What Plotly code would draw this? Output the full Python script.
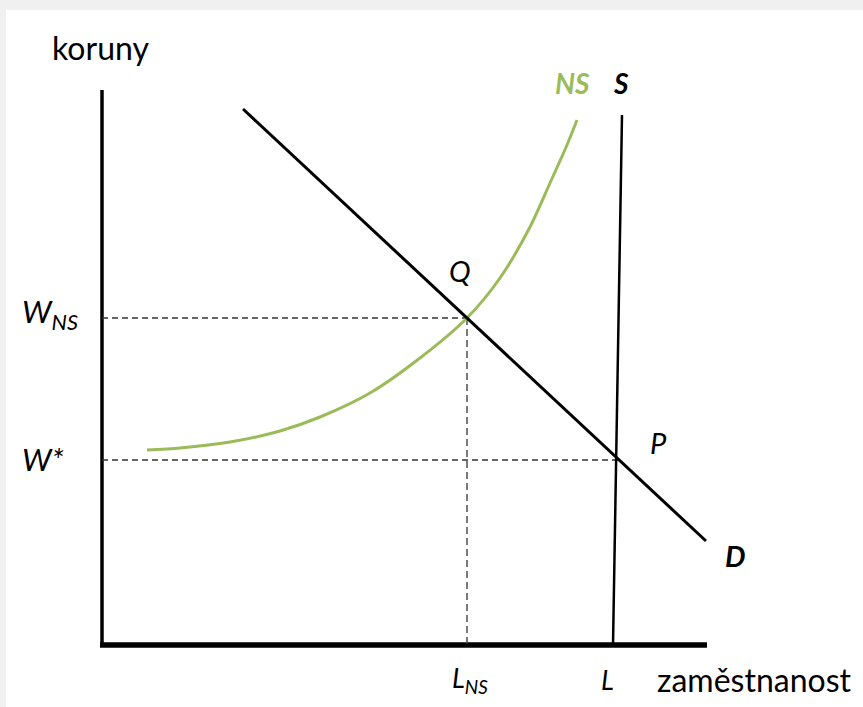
import plotly.graph_objects as go

# Coordinates in chart units (employment on x, wage on y), origin at the axes corner
axis_x_end = 60.5
axis_y_end = 55.5

d_x = [14.1, 60.4]
d_y = [53.6, 10.4]

s_x = [52.0, 51.1]
s_y = [53.0, 0.0]

ns_x = [4.5, 7.8, 12.8, 17.8, 21.8, 26.8, 31.8, 36.5, 39.8, 42.8, 44.8, 46.5, 47.5]
ns_y = [19.5, 19.7, 20.3, 21.4, 22.8, 25.2, 28.7, 32.7, 36.7, 41.8, 46.2, 50.0, 52.5]

q_point = (36.5, 32.7)   # (L_NS, W_NS)
p_point = (51.6, 18.5)   # (L, W*)

GREEN = "#9bbb59"
FONT = "Lato, 'Liberation Sans', sans-serif"

fig = go.Figure()

# axes
fig.add_trace(go.Scatter(x=[0, 0], y=[axis_y_end, 0], mode="lines",
                         line=dict(color="black", width=3.5), hoverinfo="skip"))
fig.add_trace(go.Scatter(x=[-0.2, axis_x_end], y=[0, 0], mode="lines",
                         line=dict(color="black", width=5.5), hoverinfo="skip"))

# dashed guides
fig.add_trace(go.Scatter(x=[0, q_point[0]], y=[q_point[1], q_point[1]], mode="lines",
                         line=dict(color="#333333", width=1.5, dash="6px,4px"), hoverinfo="skip"))
fig.add_trace(go.Scatter(x=[0, p_point[0]], y=[p_point[1], p_point[1]], mode="lines",
                         line=dict(color="#333333", width=1.5, dash="6px,4px"), hoverinfo="skip"))
fig.add_trace(go.Scatter(x=[q_point[0], q_point[0]], y=[q_point[1], 0], mode="lines",
                         line=dict(color="#333333", width=1.3, dash="7px,4px"), hoverinfo="skip"))

# curves
fig.add_trace(go.Scatter(x=ns_x, y=ns_y, mode="lines",
                         line=dict(color=GREEN, width=3, shape="spline", smoothing=0.8),
                         hoverinfo="skip"))
fig.add_trace(go.Scatter(x=s_x, y=s_y, mode="lines", line=dict(color="black", width=2.5),
                         hoverinfo="skip"))
fig.add_trace(go.Scatter(x=d_x, y=d_y, mode="lines", line=dict(color="black", width=3),
                         hoverinfo="skip"))

def label(x, y, text, size=28, color="black", xanchor="center"):
    fig.add_annotation(x=x, y=y, xref="x", yref="y", text=text, showarrow=False,
                       xanchor=xanchor, yanchor="middle",
                       font=dict(family=FONT, size=size, color=color))

label(-0.2, 59.8, "koruny", size=32)
label(47.0, 56.2, "<b><i>NS</i></b>", color=GREEN)
label(51.9, 56.2, "<b><i>S</i></b>")
label(35.8, 37.5, "<i>Q</i>", size=29)
label(55.6, 20.3, "<i>P</i>", size=29)
label(63.3, 9.0, "<b><i>D</i></b>", size=29)
label(-8.2, 33.2, "<i>W<sub>NS</sub></i>", xanchor="left", size=31)
label(-8.2, 18.6, "<i>W*</i>", xanchor="left", size=31)
label(36.8, -3.4, "<i>L<sub>NS</sub></i>", size=27)
label(50.5, -3.4, "<i>L</i>", size=27)
label(55.3, -3.4, "zaměstnanost", xanchor="left", size=32)

# light gray frame
fig.add_shape(type="rect", xref="paper", yref="paper", x0=0, x1=1, y0=1 - 10 / 707, y1=1,
              fillcolor="#f0f0f0", line=dict(width=0), layer="below")
fig.add_shape(type="rect", xref="paper", yref="paper", x0=0, x1=6 / 863, y0=0, y1=1,
              fillcolor="#f0f0f0", line=dict(width=0), layer="below")

fig.update_layout(
    width=863, height=707, autosize=False,
    margin=dict(l=0, r=0, t=0, b=0),
    paper_bgcolor="white", plot_bgcolor="white",
    showlegend=False,
    xaxis=dict(range=[-10.2, 76.1], visible=False, fixedrange=True),
    yaxis=dict(range=[-6.2, 64.5], visible=False, fixedrange=True),
)

fig.write_html("out.html", config={"displayModeBar": False},
               post_script="document.body.style.margin='0px';document.body.style.overflow='hidden';")
